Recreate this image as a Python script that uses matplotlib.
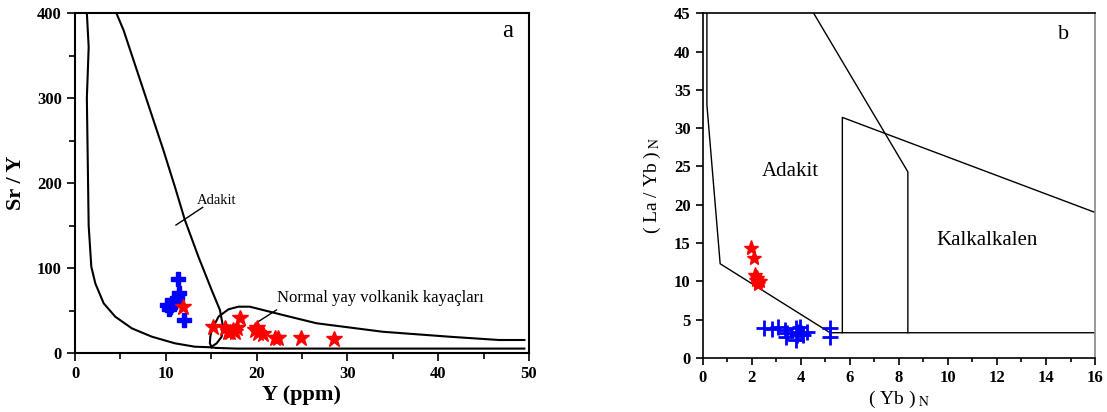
import matplotlib
matplotlib.use("Agg")
import matplotlib.pyplot as plt
from matplotlib.ticker import MultipleLocator

plt.rcParams["font.family"] = ["Liberation Serif", "DejaVu Serif"]
plt.rcParams["mathtext.fontset"] = "stix"

# ── a : Sr/Y vs Y ─────────────────────────────────────────────
a_blue_y = [11.3, 11.5, 11.2, 10.1, 10.5, 10.8, 10.3, 11.0, 12.0, 10.6]
a_blue_sry = [86.7, 71.0, 64.3, 56.5, 54.5, 59.2, 51.4, 60.0, 38.8, 57.0]
a_red_y = [11.9, 15.2, 16.5, 17.1, 17.4, 17.8, 18.2, 17.6, 16.9, 19.8, 20.0,
           20.2, 20.7, 22.0, 22.4, 24.9, 28.5]
a_red_sry = [53.8, 30.2, 29.0, 25.0, 27.0, 29.0, 40.8, 25.0, 25.0, 27.0, 29.0,
             23.0, 22.3, 18.0, 18.0, 17.3, 16.0]

# field boundaries
adakit_left_x = [1.3, 1.5, 1.3, 1.5, 1.79, 2.23, 3.15, 4.43, 6.26, 8.46, 11.0,
                 13.2, 15.05]
adakit_left_y = [400, 360, 300, 150, 101.6, 82, 58.5, 42.7, 29, 19.2, 11.4,
                 7.4, 6.7]
adakit_right_x = [4.55, 5.34, 9.73, 11.0, 12.1, 13.6, 15.05, 15.96, 16.3,
                  16.15, 15.6, 15.05]
adakit_right_y = [400, 380, 238.8, 195.6, 156.5, 113, 74, 50.6, 31, 19.2,
                  11.4, 7.5]
arc_top_x = [15.05, 14.85, 14.9, 15.05, 15.8, 16.9, 18.0, 19.25, 22.9, 26.6,
             33.9, 41.2, 46.7, 49.5]
arc_top_y = [6.7, 11.4, 19.2, 27, 42.7, 51.4, 54.5, 54.5, 44.7, 35, 25, 19.2,
             15.3, 15.3]
arc_bot_x = [15.05, 15.5, 17.8, 49.5]
arc_bot_y = [6.7, 6.0, 5.2, 5.2]

# ── b : (La/Yb)N vs (Yb)N ────────────────────────────────────
b_red_yb = [1.97, 2.08, 2.15, 2.22, 2.28, 2.35, 2.18, 2.25]
b_red_layb = [14.3, 13.1, 10.8, 10.4, 10.0, 10.1, 10.2, 9.7]
b_blue_yb = [2.51, 2.83, 3.06, 3.37, 3.44, 3.41, 3.82, 3.85, 3.82, 3.98, 4.0,
             4.11, 4.25, 3.90, 5.2, 5.2]
b_blue_layb = [3.96, 3.74, 4.09, 3.65, 3.22, 2.7, 3.87, 3.0, 2.35, 4.09, 3.22,
               3.0, 3.43, 3.43, 3.87, 2.7]

adakit_b_x = [0.18, 0.18, 0.72, 5.2, 16.0]
adakit_b_y = [45, 33, 12.3, 3.3, 3.3]
diag_b_x = [4.53, 8.37, 8.37]
diag_b_y = [45, 24.3, 3.3]
calc_b_x = [5.7, 5.7, 16.0]
calc_b_y = [3.3, 31.4, 19.0]

fig = plt.figure(figsize=(11.07, 4.12), dpi=100)
ax1 = fig.add_axes([0.0678, 0.1432, 0.410, 0.825])
ax2 = fig.add_axes([0.6346, 0.131, 0.3546, 0.837])

# ── panel a ───────────────────────────────────────────────────
lw = 1.5
for xs, ys in [(adakit_left_x, adakit_left_y), (adakit_right_x, adakit_right_y),
               (arc_top_x, arc_top_y), (arc_bot_x, arc_bot_y)]:
    ax1.plot(xs, ys, color="black", lw=lw, solid_joinstyle="round")

ax1.plot(a_blue_y, a_blue_sry, "P", color="blue", ms=10, ls="none", zorder=4)
ax1.plot(a_red_y, a_red_sry, "*", color="red", ms=12, ls="none", zorder=5)

# labels with leader lines
ax1.text(13.43, 179, "Adakit", fontsize=10.5, ha="left", va="center")
ax1.plot([14.06, 11.12], [171.4, 150.6], color="black", lw=1)
ax1.text(22.2, 64.7, "Normal yay volkanik kayaçları", fontsize=12,
         ha="left", va="center")
ax1.plot([22.18, 20.05], [50.6, 36], color="black", lw=1)
ax1.text(47.6, 379, "a", fontsize=18, ha="center", va="center")

ax1.set_xlim(0, 50)
ax1.set_ylim(0, 400)
ax1.xaxis.set_major_locator(MultipleLocator(10))
ax1.xaxis.set_minor_locator(MultipleLocator(5))
ax1.yaxis.set_major_locator(MultipleLocator(100))
ax1.yaxis.set_minor_locator(MultipleLocator(50))
ax1.tick_params(which="major", length=6, width=1.2, labelsize=12)
ax1.tick_params(which="minor", length=4, width=1.2)
for lab in ax1.get_xticklabels() + ax1.get_yticklabels():
    lab.set_fontweight("bold")
ax1.set_xlabel("Y (ppm)", fontsize=16, fontweight="bold", labelpad=2)
ax1.set_ylabel("Sr / Y", fontsize=16, fontweight="bold", labelpad=8)
for s in ax1.spines.values():
    s.set_linewidth(1.5)

# ── panel b ───────────────────────────────────────────────────
lw2 = 1.0
ax2.plot(adakit_b_x, adakit_b_y, color="black", lw=lw2)
ax2.plot(diag_b_x, diag_b_y, color="black", lw=lw2)
ax2.plot(calc_b_x, calc_b_y, color="black", lw=lw2)

ax2.plot(b_blue_yb, b_blue_layb, "+", color="blue", ms=11, mew=2, ls="none", zorder=4)
ax2.plot(b_red_yb, b_red_layb, "*", color="red", ms=11, ls="none", zorder=5)

ax2.text(3.6, 24.3, "Adakit", fontsize=15, ha="center", va="center")
ax2.text(11.6, 15.3, "Kalkalkalen", fontsize=15, ha="center", va="center")
ax2.text(14.7, 42.2, "b", fontsize=16, ha="center", va="center")

ax2.set_xlim(0, 16)
ax2.set_ylim(0, 45)
ax2.xaxis.set_major_locator(MultipleLocator(2))
ax2.xaxis.set_minor_locator(MultipleLocator(1))
ax2.yaxis.set_major_locator(MultipleLocator(5))
ax2.tick_params(which="major", length=5, width=1.2, labelsize=12)
ax2.tick_params(which="minor", length=3, width=1.2)
for lab in ax2.get_xticklabels() + ax2.get_yticklabels():
    lab.set_fontweight("bold")
ax2.set_xlabel(r"( Yb )$_{\rm\ N}$", fontsize=14, labelpad=2)
ax2.set_ylabel(r"( La / Yb )$_{\rm\ N}$", fontsize=14, labelpad=8)
for s in ax2.spines.values():
    s.set_linewidth(1.2)
ax2.spines["right"].set_color("#888888")

fig.savefig("out.png", dpi=100, facecolor="white")
